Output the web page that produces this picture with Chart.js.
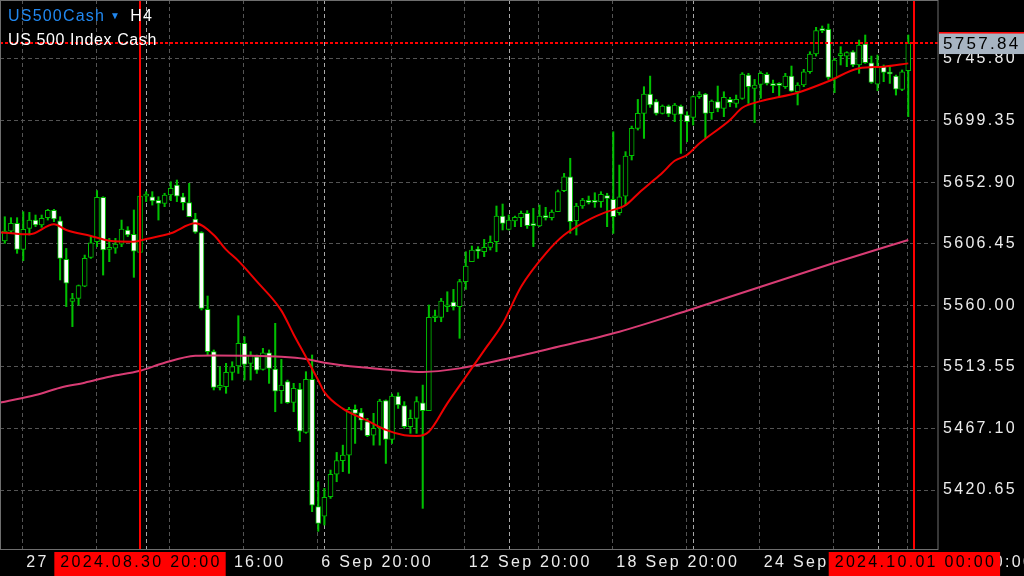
<!DOCTYPE html>
<html>
<head>
<meta charset="utf-8">
<title>US500Cash H4</title>
<script src="https://cdn.jsdelivr.net/npm/chart.js@4.4.1/dist/chart.umd.min.js"></script>
<style>
  html, body { margin: 0; padding: 0; background: #000; }
  #wrap { position: relative; width: 1024px; height: 576px; overflow: hidden; }
  .caption { position: absolute; left: 8px; font: 16px 'Liberation Sans', Arial, sans-serif; line-height: 18px; color: #fff; letter-spacing: 1.2px; white-space: nowrap; }
  .caption .sym { color: #2188f0; }
  .caption .arrow { color: #2188f0; font-size: 10px; vertical-align: 2px; margin: 0 9px 0 5px; }
</style>
</head>
<body>
<div id="wrap">
  <canvas id="chart" width="1024" height="576"></canvas>
  <div class="caption" style="top: 7px"><span class="sym">US500Cash</span><span class="arrow">▼</span>H4</div>
  <div class="caption" style="top: 31px; letter-spacing: 0.6px">US 500 Index Cash</div>
</div>
<script>
// H4 candles, index 0 = 2024.08.27 04:00
const opens = [
  5608.5, 5616.0, 5621.8, 5602.2, 5618.0, 5624.3, 5620.6, 5626.1, 5631.6, 5623.8,
  5594.6, 5563.0, 5565.2, 5574.5, 5596.2, 5608.0, 5641.4, 5602.2, 5603.0, 5606.2,
  5616.8, 5613.5, 5599.9, 5642.4, 5641.9, 5639.2, 5636.9, 5643.2, 5650.7, 5641.9,
  5637.4, 5625.1, 5614.8, 5556.9, 5525.0, 5498.1, 5498.6, 5509.4, 5514.2, 5531.3,
  5516.2, 5521.2, 5511.7, 5524.2, 5511.9, 5495.5, 5502.4, 5486.8, 5496.8, 5464.1,
  5504.1, 5408.1, 5401.0, 5415.6, 5432.5, 5442.7, 5447.0, 5481.5, 5479.0, 5472.2,
  5462.1, 5467.6, 5488.1, 5458.9, 5491.5, 5484.3, 5468.4, 5474.7, 5486.5, 5480.5,
  5550.6, 5550.9, 5558.9, 5562.5, 5558.9, 5577.8, 5592.9, 5602.2, 5600.4, 5603.7,
  5608.0, 5627.3, 5617.3, 5623.6, 5626.1, 5629.4, 5620.3, 5619.8, 5627.3, 5626.1,
  5630.6, 5646.5, 5657.0, 5623.8, 5634.9, 5638.9, 5638.2, 5638.2, 5642.7, 5640.0,
  5629.9, 5642.4, 5672.9, 5693.5, 5704.8, 5719.4, 5713.6, 5704.8, 5710.3, 5704.0,
  5710.3, 5703.5, 5701.8, 5717.4, 5719.4, 5705.3, 5713.6, 5708.6, 5715.4, 5712.3,
  5716.1, 5733.7, 5723.6, 5726.7, 5734.2, 5726.9, 5726.2, 5724.9, 5733.0, 5721.1,
  5726.2, 5736.2, 5749.6, 5768.2, 5768.2, 5731.2, 5748.3, 5748.0, 5751.3, 5741.3,
  5757.1, 5743.0, 5726.9, 5740.0, 5735.0, 5733.0, 5722.9, 5737.0
];
const highs = [
  5626.8, 5626.1, 5626.1, 5630.6, 5630.1, 5628.1, 5628.1, 5632.4, 5632.4, 5626.8,
  5602.9, 5569.0, 5575.3, 5597.9, 5611.8, 5646.5, 5641.9, 5610.5, 5610.5, 5624.3,
  5619.3, 5631.9, 5643.2, 5645.7, 5645.7, 5641.9, 5644.5, 5653.2, 5654.5, 5644.5,
  5652.0, 5629.4, 5615.5, 5567.0, 5526.3, 5513.7, 5516.2, 5517.4, 5552.1, 5536.3,
  5525.0, 5522.5, 5527.5, 5526.3, 5546.4, 5519.2, 5503.6, 5501.1, 5501.1, 5509.9,
  5522.5, 5426.9, 5421.9, 5435.7, 5449.0, 5454.5, 5483.0, 5484.8, 5482.2, 5474.7,
  5478.5, 5489.1, 5488.6, 5493.0, 5494.0, 5487.3, 5481.0, 5491.0, 5499.8, 5560.2,
  5556.4, 5565.2, 5570.2, 5572.0, 5579.6, 5600.4, 5604.7, 5604.2, 5609.7, 5612.3,
  5634.9, 5636.4, 5628.1, 5627.3, 5631.1, 5631.4, 5633.1, 5635.6, 5633.9, 5631.9,
  5647.0, 5659.5, 5670.9, 5636.9, 5640.7, 5642.4, 5644.9, 5645.7, 5644.5, 5690.9,
  5665.8, 5675.9, 5695.2, 5715.3, 5724.9, 5732.9, 5715.3, 5711.1, 5711.1, 5712.3,
  5711.1, 5706.0, 5717.9, 5721.1, 5719.9, 5714.9, 5725.4, 5721.1, 5716.9, 5718.6,
  5735.5, 5735.0, 5730.4, 5736.2, 5735.5, 5729.9, 5727.9, 5735.0, 5740.5, 5727.9,
  5738.0, 5751.3, 5769.7, 5770.7, 5772.2, 5746.3, 5755.1, 5751.3, 5752.1, 5760.1,
  5763.9, 5748.0, 5748.8, 5741.3, 5740.0, 5733.7, 5737.5, 5763.9
];
const lows = [
  5606.7, 5614.3, 5599.2, 5593.6, 5613.0, 5619.3, 5618.8, 5624.3, 5623.1, 5579.1,
  5559.0, 5543.9, 5560.2, 5574.0, 5595.4, 5604.2, 5582.8, 5592.9, 5599.2, 5604.2,
  5611.8, 5581.1, 5599.2, 5638.2, 5635.6, 5624.3, 5634.4, 5638.9, 5638.2, 5631.9,
  5626.8, 5614.3, 5556.4, 5522.5, 5496.1, 5496.1, 5493.6, 5503.6, 5508.6, 5503.6,
  5503.6, 5508.6, 5511.1, 5501.1, 5479.7, 5486.0, 5486.0, 5479.7, 5457.1, 5463.4,
  5404.3, 5389.5, 5394.2, 5414.3, 5426.9, 5434.5, 5433.2, 5455.8, 5465.9, 5460.9,
  5454.5, 5454.5, 5440.7, 5455.8, 5482.2, 5467.1, 5463.4, 5463.4, 5406.8, 5480.5,
  5547.6, 5547.6, 5555.2, 5556.4, 5535.1, 5572.0, 5592.9, 5595.4, 5596.7, 5601.7,
  5600.4, 5616.8, 5616.8, 5619.3, 5619.3, 5618.0, 5604.2, 5619.3, 5624.3, 5624.3,
  5630.6, 5645.7, 5614.3, 5613.0, 5633.1, 5636.4, 5633.9, 5633.9, 5619.3, 5614.2,
  5628.1, 5635.6, 5669.6, 5692.2, 5685.9, 5709.3, 5703.5, 5704.3, 5702.3, 5698.5,
  5674.6, 5683.4, 5696.0, 5716.1, 5685.9, 5700.3, 5706.0, 5702.3, 5709.8, 5709.3,
  5715.4, 5712.3, 5697.8, 5716.1, 5726.2, 5720.4, 5716.9, 5723.6, 5721.1, 5711.1,
  5724.9, 5735.0, 5748.0, 5765.7, 5730.4, 5720.4, 5741.3, 5740.0, 5740.0, 5735.0,
  5742.5, 5727.4, 5721.9, 5728.7, 5727.4, 5718.6, 5721.9, 5702.3
];
const closes = [
  5616.0, 5621.8, 5602.2, 5617.3, 5624.3, 5620.6, 5625.6, 5631.6, 5625.1, 5595.4,
  5576.6, 5565.0, 5574.8, 5595.4, 5607.2, 5641.4, 5601.7, 5603.5, 5606.2, 5617.5,
  5613.0, 5600.9, 5642.4, 5642.9, 5638.7, 5636.9, 5643.2, 5648.2, 5642.4, 5637.4,
  5626.8, 5615.1, 5557.6, 5525.0, 5498.1, 5498.6, 5509.4, 5513.7, 5531.3, 5515.4,
  5522.5, 5511.1, 5524.2, 5512.4, 5495.3, 5499.8, 5486.5, 5497.3, 5465.1, 5504.1,
  5409.3, 5395.5, 5415.1, 5432.5, 5442.8, 5447.0, 5481.5, 5478.5, 5473.4, 5461.6,
  5467.1, 5487.8, 5458.9, 5491.5, 5484.8, 5468.4, 5474.7, 5487.3, 5480.5, 5550.9,
  5552.1, 5563.2, 5559.9, 5558.9, 5577.8, 5589.6, 5601.7, 5600.9, 5603.7, 5607.5,
  5627.3, 5621.8, 5624.3, 5626.3, 5629.4, 5620.1, 5620.1, 5627.3, 5626.1, 5630.4,
  5645.7, 5657.0, 5623.1, 5634.9, 5639.4, 5637.6, 5637.6, 5643.7, 5640.7, 5626.8,
  5641.9, 5672.6, 5693.5, 5704.8, 5719.4, 5711.1, 5704.8, 5710.3, 5704.3, 5711.1,
  5704.0, 5698.5, 5717.4, 5718.6, 5704.8, 5714.1, 5708.6, 5716.9, 5712.8, 5715.4,
  5734.5, 5724.9, 5726.2, 5735.0, 5727.4, 5725.7, 5725.9, 5733.0, 5721.6, 5726.2,
  5736.2, 5749.6, 5767.2, 5767.2, 5731.9, 5745.0, 5748.3, 5750.6, 5741.3, 5756.3,
  5743.0, 5728.2, 5740.0, 5735.7, 5734.5, 5723.1, 5736.2, 5757.84
];

// moving averages, sampled at bar indices
const fastMaIdx = [-1, 0, 4, 8, 10, 14, 17, 21, 23, 27, 31, 34, 36, 38, 41, 45, 47, 49, 51, 52, 55, 59, 62, 65, 67, 69, 72, 75, 78, 81, 84, 88, 91, 95, 98, 101, 103, 105, 107, 109, 111, 113, 118, 120, 123, 129, 134, 139, 143, 147];
const fastMaVal = [5614.9, 5614.7, 5613.5, 5621.1, 5616.8, 5612.3, 5608.7, 5608.0, 5610.0, 5614.3, 5621.8, 5613.0, 5602.0, 5593.5, 5578.0, 5556.0, 5538.0, 5521.0, 5503.5, 5494.5, 5482.0, 5473.0, 5466.0, 5462.0, 5461.4, 5464.6, 5486.0, 5506.0, 5526.0, 5546.0, 5574.0, 5599.0, 5613.0, 5624.5, 5630.6, 5635.5, 5644.0, 5652.0, 5660.0, 5669.0, 5673.4, 5682.0, 5699.8, 5709.0, 5714.0, 5720.4, 5729.0, 5738.8, 5740.0, 5742.5];
const slowMaIdx = [-1, 0, 5, 9, 13, 17, 22, 26, 31, 34, 39, 45, 49, 52, 58, 63, 68, 74, 82, 90, 100, 111, 123, 135, 147];
const slowMaVal = [5486.3, 5487.3, 5492.3, 5497.8, 5501.6, 5506.1, 5510.6, 5516.7, 5521.9, 5522.2, 5522.0, 5521.2, 5519.5, 5516.7, 5513.2, 5511.2, 5509.7, 5512.4, 5520.0, 5528.7, 5540.1, 5555.9, 5574.0, 5592.1, 5609.2];

// axis labels
const priceTicks = [5420.65, 5467.10, 5513.55, 5560.00, 5606.45, 5652.90, 5699.35, 5745.80];
const timeTickBars = [3, 15, 27, 39, 51, 63, 75, 87, 99, 111, 123, 135, 147];
const timeTickLabels = ['27 Aug 16:00', '', '2 Sep 16:00', '', '6 Sep 20:00', '', '12 Sep 20:00', '', '18 Sep 20:00', '', '24 Sep 20:00', '', '30 Sep 20:00'];
const weekStartBars = [23, 52, 82, 112, 142];
const cursorBars = [22, 148];
const cursorLabels = ['2024.08.30 20:00', '2024.10.01 00:00'];
const lastPrice = 5757.84;

const GREEN = '#00c000';
const FONT = "'Liberation Sans', Arial, sans-serif";
const SPACING = '2.3px';

const wickData = highs.map((h, i) => ({ x: i, y: [lows[i], h] }));
const bodyData = opens.map((o, i) => ({ x: i, y: [Math.min(o, closes[i]), Math.max(o, closes[i])] }));
const bodyFill = opens.map((o, i) => (closes[i] >= o ? '#000000' : '#ffffff'));

const decorations = {
  id: 'decorations',
  beforeUpdate(chart) { chart.ctx.letterSpacing = SPACING; },
  beforeDraw(chart) { chart.ctx.letterSpacing = SPACING; },
  beforeDatasetsDraw(chart) {
    const { ctx, chartArea: a, scales: { x } } = chart;
    ctx.save();
    ctx.strokeStyle = '#a8a8a8';
    ctx.lineWidth = 1;
    ctx.setLineDash([4, 3]);
    for (const b of weekStartBars) {
      const px = Math.round(x.getPixelForValue(b)) + 0.5;
      ctx.beginPath();
      ctx.moveTo(px, a.top);
      ctx.lineTo(px, a.bottom);
      ctx.stroke();
    }
    ctx.restore();
  },
  afterDatasetsDraw(chart) {
    const { ctx, chartArea: a, scales: { x, y } } = chart;
    ctx.save();
    // bid line
    const py = Math.round(y.getPixelForValue(lastPrice));
    ctx.strokeStyle = '#ff0000';
    ctx.lineWidth = 2;
    ctx.setLineDash([3, 2]);
    ctx.beginPath();
    ctx.moveTo(a.left, py);
    ctx.lineTo(a.right, py);
    ctx.stroke();
    // cursor lines
    ctx.setLineDash([]);
    for (const b of cursorBars) {
      const px = Math.round(x.getPixelForValue(b));
      ctx.beginPath();
      ctx.moveTo(px, a.top);
      ctx.lineTo(px, a.bottom);
      ctx.stroke();
    }
    ctx.restore();
  },
  afterDraw(chart) {
    const { ctx, chartArea: a, scales: { x, y } } = chart;
    ctx.save();
    ctx.strokeStyle = '#6e6e6e';
    ctx.lineWidth = 1;
    ctx.strokeRect(a.left + 0.5, a.top + 0.5, a.right - a.left - 0.5, a.bottom - a.top);

    ctx.letterSpacing = SPACING;
    ctx.textBaseline = 'middle';

    // last price tag
    const py = y.getPixelForValue(lastPrice);
    ctx.fillStyle = '#a7b4c2';
    ctx.fillRect(a.right + 1, py - 11, chart.width - a.right - 1, 22);
    ctx.fillStyle = '#ff0000';
    ctx.fillRect(a.right + 1, py - 11, chart.width - a.right - 1, 1.5);
    ctx.font = '17px ' + FONT;
    ctx.fillStyle = '#000000';
    ctx.textAlign = 'left';
    ctx.fillText(lastPrice.toFixed(2), a.right + 5, py + 1);

    // cursor time tags
    ctx.font = '16px ' + FONT;
    ctx.textAlign = 'center';
    cursorBars.forEach((b, k) => {
      const px = x.getPixelForValue(b);
      const w = ctx.measureText(cursorLabels[k]).width + 10;
      ctx.fillStyle = '#ff0000';
      ctx.fillRect(px - w / 2, a.bottom + 3, w, 24);
      ctx.fillStyle = '#000000';
      ctx.fillText(cursorLabels[k], px + 1, a.bottom + 14);
    });
    ctx.restore();
  }
};

new Chart(document.getElementById('chart'), {
  type: 'bar',
  data: {
    datasets: [
      {
        type: 'line',
        data: fastMaIdx.map((b, i) => ({ x: b, y: fastMaVal[i] })),
        borderColor: '#ee0000',
        borderWidth: 2,
        pointRadius: 0,
        cubicInterpolationMode: 'monotone',
        order: 0
      },
      {
        type: 'line',
        data: slowMaIdx.map((b, i) => ({ x: b, y: slowMaVal[i] })),
        borderColor: '#d83c74',
        borderWidth: 2,
        pointRadius: 0,
        cubicInterpolationMode: 'monotone',
        order: 1
      },
      {
        data: bodyData,
        backgroundColor: bodyFill,
        borderColor: GREEN,
        borderWidth: 1,
        borderSkipped: false,
        barThickness: 5,
        minBarLength: 2,
        grouped: false,
        order: 2
      },
      {
        data: wickData,
        backgroundColor: GREEN,
        borderWidth: 0,
        barThickness: 1.4,
        grouped: false,
        order: 3
      }
    ]
  },
  options: {
    responsive: false,
    animation: false,
    events: [],
    layout: { padding: 0 },
    plugins: { legend: { display: false }, tooltip: { enabled: false } },
    scales: {
      x: {
        type: 'linear',
        offset: false,
        min: -0.781,
        max: 151.84,
        grid: { color: '#545454', lineWidth: 1, drawTicks: false, offset: false },
        border: { display: false, dash: [4, 3] },
        ticks: {
          color: '#ececec',
          font: { family: FONT, size: 16 },
          align: 'start',
          labelOffset: 4,
          padding: 4,
          maxRotation: 0,
          autoSkip: false,
          callback: (v, i) => timeTickLabels[i] || ''
        },
        afterBuildTicks: (scale) => {
          scale.ticks = timeTickBars.map((b) => ({ value: b - 0.15 }));
        },
        afterFit: (scale) => {
          scale.height = 27;
          scale.paddingLeft = 0;
          scale.paddingRight = 0;
        }
      },
      y: {
        position: 'right',
        min: 5376.14,
        max: 5790.31,
        grid: { color: '#545454', lineWidth: 1, drawTicks: false },
        border: { display: false, dash: [4, 3] },
        ticks: {
          color: '#ececec',
          font: { family: FONT, size: 16 },
          padding: 5,
          callback: (v) => v.toFixed(2)
        },
        afterBuildTicks: (scale) => {
          scale.ticks = priceTicks.map((v) => ({ value: v }));
        },
        afterFit: (scale) => {
          scale.width = 86;
          scale.paddingTop = 0;
          scale.paddingBottom = 0;
        }
      }
    }
  },
  plugins: [decorations]
});
</script>
</body>
</html>
